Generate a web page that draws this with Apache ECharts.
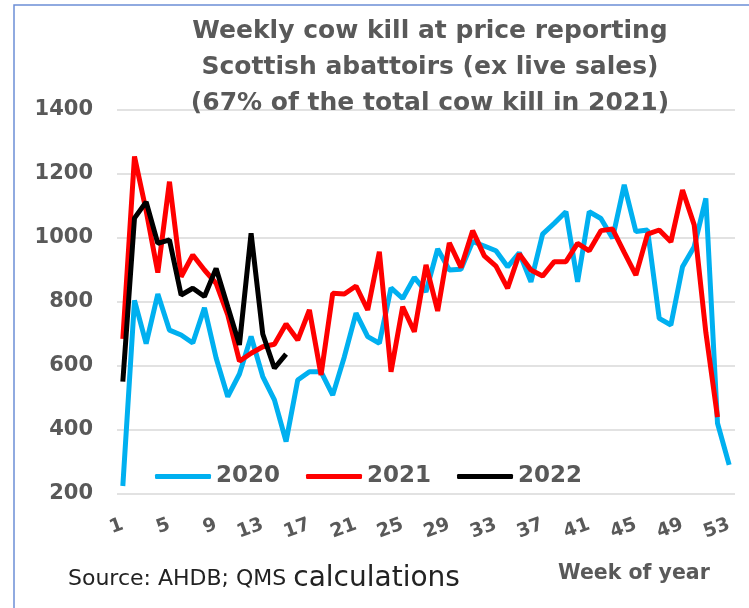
<!doctype html>
<html>
<head>
    <meta charset="utf-8">
    <title>Weekly cow kill</title>
    <script src="https://cdn.jsdelivr.net/npm/echarts@6/dist/echarts.min.js"></script>
    <style>
        body { margin: 0; background: #fff; }
        #main { width: 749px; height: 608px; }
    </style>
</head>
<body>
    <div id="main"></div>
    <script type="text/javascript">
        var weeks = ['1','2','3','4','5','6','7','8','9','10','11','12','13','14','15','16','17','18',
            '19','20','21','22','23','24','25','26','27','28','29','30','31','32','33','34','35','36',
            '37','38','39','40','41','42','43','44','45','46','47','48','49','50','51','52','53'];

        var kill2020 = [225, 805, 670, 825, 712, 697, 672, 782, 625, 504, 575, 692, 567, 494, 364, 556,
            582, 582, 509, 629, 765, 692, 671, 844, 811, 877, 832, 966, 900, 902, 989, 975, 960, 910,
            954, 863, 1012, 1046, 1082, 863, 1082, 1061, 999, 1166, 1020, 1025, 749, 728, 910, 973,
            1124, 421, 291];

        var kill2021 = [685, 1255, 1085, 892, 1176, 879, 947, 900, 858, 760, 615, 640, 660, 668, 731, 681,
            775, 572, 827, 825, 850, 775, 957, 582, 785, 707, 916, 772, 985, 908, 1023, 944, 912, 843,
            950, 900, 881, 926, 926, 983, 960, 1023, 1028, 955, 884, 1012, 1025, 988, 1150, 1041,
            705, 440];

        var kill2022 = [551, 1062, 1113, 983, 994, 822, 843, 817, 905, 785, 666, 1015, 700, 593, 637];

        var yTicks = [200, 400, 600, 800, 1000, 1200, 1400];

        var grey = '#595959';
        var font = 'DejaVu Sans';
        var chart = echarts.init(document.getElementById('main'));

        function mk(name, data, color) {
            return {
                name: name,
                type: 'line',
                data: data,
                symbol: 'none',
                lineStyle: { color: color, width: 5 },
                itemStyle: { color: color },
                z: 3
            };
        }

        chart.setOption({
            animation: false,
            graphic: [{
                type: 'rect',
                shape: { x: 14, y: 5, width: 800, height: 700 },
                style: { fill: 'none', stroke: '#6c8fd6', lineWidth: 1.5 },
                silent: true
            }, {
                type: 'text',
                left: 68, top: 565,
                style: {
                    text: '{a|Source: AHDB; QMS }{b|calculations}',
                    rich: {
                        a: { fontFamily: font, fontSize: 22, fill: '#222' },
                        b: { fontFamily: font, fontSize: 28, fill: '#222' }
                    }
                }
            }, {
                type: 'text',
                left: 558, top: 563,
                style: { text: 'Week of year', fontFamily: font, fontWeight: 'bold', fontSize: 20.5, fill: grey }
            }],
            title: {
                text: 'Weekly cow kill at price reporting\nScottish abattoirs (ex live sales)\n(67% of the total cow kill in 2021)',
                left: 425,
                textAlign: 'center',
                top: 8,
                textStyle: {
                    fontFamily: font,
                    fontWeight: 'bold',
                    fontSize: 25,
                    lineHeight: 36,
                    color: grey
                }
            },
            legend: {
                data: ['2020', '2021', '2022'],
                left: 150,
                top: 460,
                icon: 'roundRect',
                itemWidth: 56,
                itemHeight: 5,
                itemGap: 26,
                textStyle: { fontFamily: font, fontWeight: 'bold', fontSize: 23, color: grey }
            },
            grid: { left: 117, right: 14, top: 110, bottom: 114 },
            xAxis: {
                type: 'category',
                data: weeks,
                boundaryGap: true,
                axisLine: { show: false },
                axisTick: { show: false },
                axisLabel: {
                    interval: 3,
                    rotate: 20,
                    margin: 30,
                    fontFamily: font,
                    fontWeight: 'bold',
                    fontSize: 19,
                    color: grey
                }
            },
            yAxis: {
                type: 'value',
                min: 200,
                max: 1400,
                interval: 200,
                axisLabel: {
                    margin: 24,
                    fontFamily: font,
                    fontWeight: 'bold',
                    fontSize: 21,
                    color: grey,
                    formatter: function (v) { return yTicks.indexOf(v) >= 0 ? String(v) : ''; }
                },
                splitLine: { lineStyle: { color: '#d9d9d9', width: 1.5 } }
            },
            series: [
                mk('2020', kill2020, '#00b0f0'),
                mk('2021', kill2021, '#ff0000'),
                mk('2022', kill2022, '#000000')
            ]
        });
    </script>
</body>
</html>
